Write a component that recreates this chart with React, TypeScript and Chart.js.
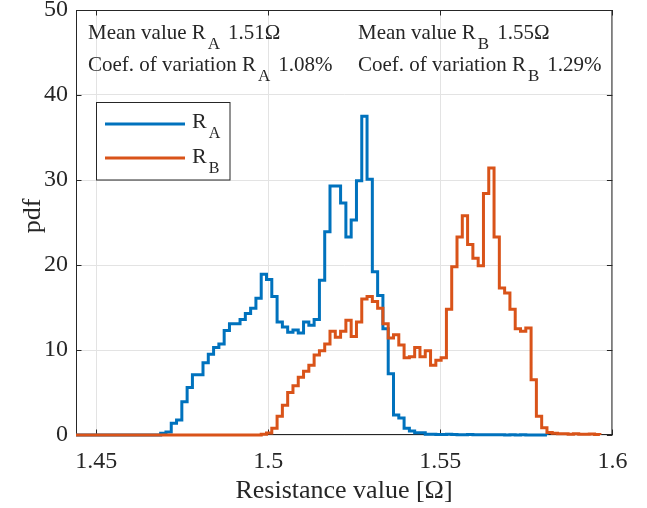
import React, { useEffect, useRef } from "react";
import { Chart, registerables } from "chart.js";

Chart.register(...registerables);

// Histogram bin grid (shared by both series)
const BIN_START = 1.4441;
const BIN_WIDTH = 0.001538;

// pdf values of R_A per bin
const RA_PDF = [
  0, 0, 0, 0, 0, 0, 0, 0, 0, 0,
  0, 0, 0, 0, 0, 0, 0.2, 0.35, 1.37, 1.76,
  3.9, 5.6, 7.1, 7.1, 8.5, 9.5, 10.3, 10.7, 12.3, 13.1,
  13.1, 13.6, 14.3, 14.9, 16.1, 18.9, 18.3, 16.3, 13.3, 12.7,
  12.1, 12.35, 12.0, 13.3, 12.9, 13.6, 18.2, 23.9, 29.3, 29.3,
  27.3, 23.3, 25.3, 29.9, 37.5, 30.1, 19.2, 16.4, 12.5, 7.2,
  2.35, 2.0, 0.8, 0.47, 0.27, 0.27, 0.1, 0.08, 0.05, 0.05,
  0.1, 0.05, 0.03, 0.03, 0.05, 0.02, 0.03, 0.02, 0.02, 0.03,
  0.02, 0.01, 0.02, 0.01, 0.02, 0.01, 0.01, 0.01, 0.01,
];

// pdf values of R_B per bin
const RB_PDF = [
  0, 0, 0, 0, 0, 0, 0, 0, 0, 0,
  0, 0, 0, 0, 0, 0, 0, 0, 0, 0,
  0, 0, 0, 0, 0, 0, 0, 0, 0, 0,
  0, 0, 0, 0, 0, 0.1, 0.25, 0.8, 2.2, 3.5,
  5.0, 5.8, 6.8, 7.5, 8.2, 9.4, 9.9, 10.7, 12.2, 11.5,
  12.2, 13.5, 11.6, 13.3, 16.0, 16.3, 15.7, 14.9, 13.1, 11.4,
  11.8, 10.6, 9.1, 9.2, 10.3, 9.2, 9.9, 8.2, 8.8, 9.1,
  14.8, 19.8, 23.3, 25.8, 22.4, 20.8, 19.9, 28.4, 31.4, 23.3,
  17.3, 16.7, 14.8, 12.5, 12.2, 12.6, 6.5, 2.2, 0.86, 0.3,
  0.2, 0.15, 0.15, 0.1, 0.15, 0.1, 0.1, 0.12, 0.05,
];

const X_TICKS = [1.45, 1.5, 1.55, 1.6];
const Y_TICKS = [0, 10, 20, 30, 40, 50];
const X_MAX = 1.6;
const Y_MIN = 0;
const Y_MAX = 50;

const SERIES_SUBS = ["A", "B"];
const MEAN_LABELS = ["1.51\u03A9", "1.55\u03A9"];
const COV_LABELS = ["1.08%", "1.29%"];
const X_TITLE = "Resistance value [\u03A9]";
const Y_TITLE = "pdf";

const BLUE = "#0072BD";
const ORANGE = "#D95319";
const INK = "#262626";
const GRID = "#e3e3e3";
const FONT = '"Liberation Serif", "Times New Roman", Times, serif';
const f = (s: number) => `${s}px ${FONT}`;

function stairs(vals: number[]) {
  const pts: { x: number; y: number }[] = [{ x: BIN_START, y: 0 }];
  vals.forEach((v, i) => pts.push({ x: BIN_START + i * BIN_WIDTH, y: v }));
  const end = BIN_START + vals.length * BIN_WIDTH;
  pts.push({ x: end, y: vals[vals.length - 1] }, { x: end, y: 0 });
  return pts;
}

function richText(
  ctx: CanvasRenderingContext2D,
  x: number,
  y: number,
  main: string,
  sub: string,
  tail: string,
  size = 21,
  subSize = 17,
  subDrop = 10
) {
  ctx.textAlign = "left";
  ctx.textBaseline = "alphabetic";
  ctx.fillStyle = INK;
  ctx.font = f(size);
  ctx.fillText(main, x, y);
  let cx = x + ctx.measureText(main).width + 2;
  ctx.font = f(subSize);
  ctx.fillText(sub, cx, y + subDrop);
  cx += ctx.measureText(sub).width + 8;
  if (tail) {
    ctx.font = f(size);
    ctx.fillText(tail, cx, y);
  }
}

const decorPlugin = {
  id: "decor",
  beforeDatasetsDraw(chart: any) {
    const { ctx, chartArea, scales } = chart;
    const { left, right, top, bottom } = chartArea;
    ctx.save();
    ctx.strokeStyle = INK;
    ctx.lineWidth = 1;
    ctx.strokeRect(left + 0.5, top + 0.5, right - left - 1, bottom - top - 1);
    const tl = 5.5;
    ctx.beginPath();
    X_TICKS.forEach((v) => {
      const px = Math.round(scales.x.getPixelForValue(v)) + 0.5;
      ctx.moveTo(px, bottom);
      ctx.lineTo(px, bottom - tl);
      ctx.moveTo(px, top);
      ctx.lineTo(px, top + tl);
    });
    Y_TICKS.forEach((v) => {
      const py = Math.round(scales.y.getPixelForValue(v)) + 0.5;
      ctx.moveTo(left, py);
      ctx.lineTo(left + tl, py);
      ctx.moveTo(right, py);
      ctx.lineTo(right - tl, py);
    });
    ctx.stroke();
    ctx.restore();
  },
  afterDatasetsDraw(chart: any) {
    const { ctx } = chart;
    ctx.save();
    // statistics annotations
    richText(ctx, 88, 39, "Mean value R", SERIES_SUBS[0], MEAN_LABELS[0]);
    richText(ctx, 88, 71, "Coef. of variation R", SERIES_SUBS[0], COV_LABELS[0]);
    richText(ctx, 358, 39, "Mean value R", SERIES_SUBS[1], MEAN_LABELS[1]);
    richText(ctx, 358, 71, "Coef. of variation R", SERIES_SUBS[1], COV_LABELS[1]);

    // legend
    ctx.fillStyle = "#ffffff";
    ctx.fillRect(96.5, 102.5, 133.5, 77.5);
    ctx.strokeStyle = INK;
    ctx.lineWidth = 1;
    ctx.strokeRect(96.5, 102.5, 133.5, 77.5);
    ctx.lineWidth = 3;
    ctx.strokeStyle = BLUE;
    ctx.beginPath();
    ctx.moveTo(105, 124);
    ctx.lineTo(185, 124);
    ctx.stroke();
    ctx.strokeStyle = ORANGE;
    ctx.beginPath();
    ctx.moveTo(105, 158);
    ctx.lineTo(185, 158);
    ctx.stroke();
    richText(ctx, 192, 128, "R", SERIES_SUBS[0], "", 22, 16, 10);
    richText(ctx, 192, 163, "R", SERIES_SUBS[1], "", 22, 16, 10);

    // axis titles
    ctx.fillStyle = INK;
    ctx.font = f(26);
    ctx.textAlign = "center";
    ctx.textBaseline = "alphabetic";
    ctx.fillText(X_TITLE, 344, 497.5);
    ctx.translate(39.5, 216);
    ctx.rotate(-Math.PI / 2);
    ctx.fillText(Y_TITLE, 0, 0);
    ctx.restore();
  },
};

export default function App() {
  const ref = useRef<HTMLCanvasElement | null>(null);

  useEffect(() => {
    if (!ref.current) return;
    const tickFont = { family: FONT, size: 24 } as any;
    const chart = new Chart(ref.current, {
      type: "line",
      data: {
        datasets: [
          {
            label: "R_B",
            data: stairs(RB_PDF),
            borderColor: ORANGE,
            backgroundColor: ORANGE,
            order: 1,
          },
          {
            label: "R_A",
            data: stairs(RA_PDF),
            borderColor: BLUE,
            backgroundColor: BLUE,
            order: 2,
          },
        ] as any,
      },
      options: {
        animation: false,
        responsive: false,
        devicePixelRatio: 1,
        events: [],
        layout: { padding: { top: 10, right: 34.6, bottom: 0, left: 0 } },
        datasets: {
          line: {
            stepped: true,
            fill: false,
            clip: false,
            borderWidth: 3,
            pointRadius: 0,
            borderJoinStyle: "miter",
            borderCapStyle: "butt",
          },
        } as any,
        plugins: {
          legend: { display: false },
          tooltip: { enabled: false },
        },
        scales: {
          x: {
            type: "linear",
            min: BIN_START,
            max: X_MAX,
            afterBuildTicks: (s: any) => {
              s.ticks = X_TICKS.map((v) => ({ value: v }));
            },
            afterFit: (s: any) => {
              s.height = 73;
              s.paddingLeft = 0;
              s.paddingRight = 0;
            },
            ticks: {
              callback: (v: any) => String(v),
              font: tickFont,
              color: INK,
              padding: 12,
              maxRotation: 0,
              autoSkip: false,
            },
            grid: { color: GRID, lineWidth: 1, drawTicks: false },
            border: { display: false },
          },
          y: {
            type: "linear",
            min: Y_MIN,
            max: Y_MAX,
            afterBuildTicks: (s: any) => {
              s.ticks = Y_TICKS.map((v) => ({ value: v }));
            },
            afterFit: (s: any) => {
              s.width = 76;
              s.paddingTop = 0;
              s.paddingBottom = 0;
            },
            ticks: {
              callback: (v: any) => String(v),
              font: tickFont,
              color: INK,
              padding: 8,
              autoSkip: false,
            },
            grid: { color: GRID, lineWidth: 1, drawTicks: false },
            border: { display: false },
          },
        },
      } as any,
      plugins: [decorPlugin],
    });
    return () => chart.destroy();
  }, []);

  return (
    <div
      style={{
        position: "fixed",
        left: 0,
        top: 0,
        width: 647,
        height: 508,
        background: "#ffffff",
      }}
    >
      <canvas ref={ref} width={647} height={508} style={{ display: "block" }} />
    </div>
  );
}
